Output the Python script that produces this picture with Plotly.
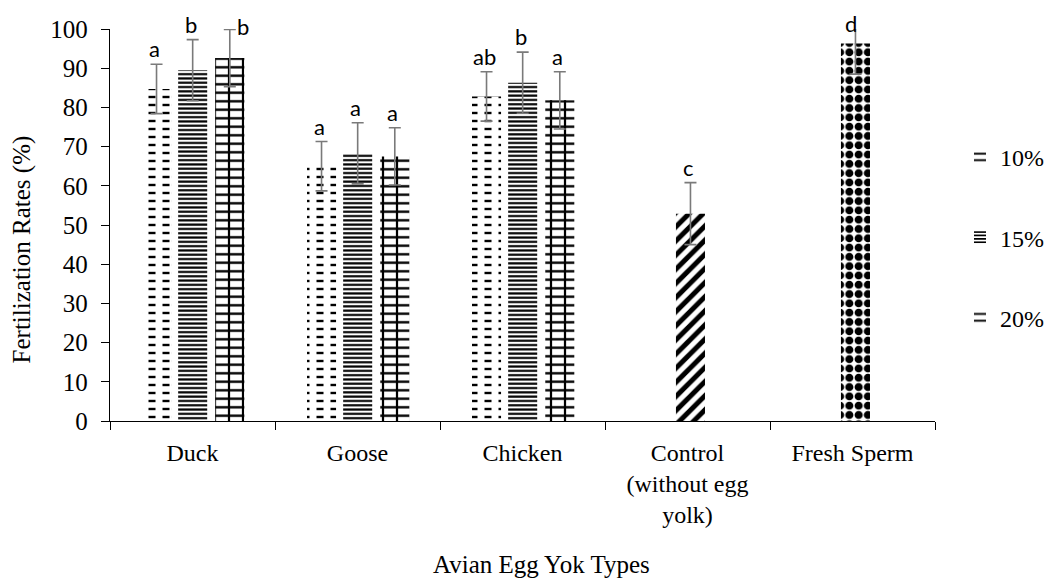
import plotly.graph_objects as go

# ---------------- data ----------------
categories = ["Duck", "Goose", "Chicken", "Control<br>(without egg<br>yolk)", "Fresh Sperm"]
yolk_types = ["Duck", "Goose", "Chicken"]
series_names = ["10%", "15%", "20%"]

vals_10 = [84.7, 65.0, 82.8]
vals_15 = [89.5, 68.3, 86.3]
vals_20 = [92.6, 67.5, 81.8]
err_10 = [6.3, 6.3, 6.3]
err_15 = [7.8, 7.8, 7.8]
err_20 = [7.3, 7.3, 7.3]
letters_10 = ["a", "a", "ab"]
letters_15 = ["b", "a", "b"]
letters_20 = ["b", "a", "a"]

control_val = [52.9]
control_err = [7.9]
control_letter = ["c"]
fresh_val = [96.3]
fresh_err = [7.8]
fresh_letter = ["d"]

y_range = [0, 100]
y_dtick = 10

# ---------------- style ----------------
SERIF = "Liberation Serif"
SANS = "Lato"
ERR_COLOR = "#7a7a7a"
BAR_W = 0.176
OFFSETS = {"10%": -0.306, "15%": -0.087, "20%": 0.138}
SINGLE_OFF = -0.07

fig = go.Figure()

def err(arr):
    return dict(type="data", array=arr, visible=True, color=ERR_COLOR, thickness=1.6, width=6)

def bars(x, y, e, off, name, base_pat, over_pat=None, legend=False, group=None):
    base_pat = dict(base_pat, fgopacity=1)
    fig.add_trace(go.Bar(
        x=x, y=y, name=name, offset=off, width=BAR_W, opacity=1,
        marker=dict(color="white", opacity=1, line=dict(width=0), pattern=base_pat),
        error_y=err(e) if over_pat is None else None,
        showlegend=legend, legendgroup=group,
    ))
    if over_pat is not None:
        over_pat = dict(over_pat, fgopacity=1)
        fig.add_trace(go.Bar(
            x=x, y=y, name=name, offset=off, width=BAR_W, opacity=1,
            marker=dict(color="rgba(0,0,0,0)", line=dict(width=0), pattern=over_pat),
            error_y=err(e), showlegend=False, legendgroup=group, hoverinfo="skip",
        ))

# 10%: dashed horizontal lines (black lines cut by white vertical stripes)
bars(yolk_types, vals_10, err_10, OFFSETS["10%"], "10%",
     dict(shape="-", fgcolor="black", bgcolor="white", size=8, solidity=0.3),
     dict(shape="|", fgcolor="white", bgcolor="rgba(0,0,0,0)", size=14, solidity=0.5),
     legend=True, group="g10")
# 15%: dense horizontal lines
bars(yolk_types, vals_15, err_15, OFFSETS["15%"], "15%",
     dict(shape="-", fgcolor="black", bgcolor="white", size=4.3, solidity=0.5),
     legend=True, group="g15")
# 20%: brick-like grid
bars(yolk_types, vals_20, err_20, OFFSETS["20%"], "20%",
     dict(shape="-", fgcolor="black", bgcolor="white", size=8.5, solidity=0.28),
     dict(shape="|", fgcolor="black", bgcolor="rgba(0,0,0,0)", size=14, solidity=0.16),
     legend=True, group="g20")
# Control: diagonal stripes
bars([categories[3]], control_val, control_err, SINGLE_OFF, "Control",
     dict(shape="/", fgcolor="black", bgcolor="white", size=10, solidity=0.5))
# Fresh sperm: checker-like
bars([categories[4]], fresh_val, fresh_err, SINGLE_OFF, "Fresh Sperm",
     dict(shape=".", fgcolor="black", bgcolor="white", size=9.3, solidity=0.6))

# ---------------- letters ----------------
CAT_PX = 165.0
def center_shift(off):
    return (off + BAR_W / 2) * CAT_PX

def add_letters(xs, ys, es, letters, off):
    for xc, v, e, t in zip(xs, ys, es, letters):
        top = min(v + e, y_range[1])
        dx, dy = center_shift(off) - 2, 1
        if v + e > 99:
            if xc == categories[4]:
                dx, dy = center_shift(off) - 4, -9
            else:
                dx, dy = center_shift(off) + 13, -12
        fig.add_annotation(x=xc, y=top, text=t, showarrow=False, xref="x", yref="y",
                           xanchor="center", yanchor="bottom", xshift=dx, yshift=dy,
                           borderpad=0,
                           font=dict(family=SANS, size=22, color="black"))

add_letters(yolk_types, vals_10, err_10, letters_10, OFFSETS["10%"])
add_letters(yolk_types, vals_15, err_15, letters_15, OFFSETS["15%"])
add_letters(yolk_types, vals_20, err_20, letters_20, OFFSETS["20%"])
add_letters([categories[3]], control_val, control_err, control_letter, SINGLE_OFF)
add_letters([categories[4]], fresh_val, fresh_err, fresh_letter, SINGLE_OFF)

# axis titles
fig.add_annotation(text="Fertilization Rates (%)", textangle=-90, showarrow=False,
                   xref="paper", yref="paper", x=-0.107, y=0.437,
                   xanchor="center", yanchor="middle",
                   font=dict(family=SERIF, size=25, color="black"))
fig.add_annotation(text="Avian Egg Yok Types", showarrow=False,
                   xref="paper", yref="paper", x=0.523, y=-0.365,
                   xanchor="center", yanchor="middle",
                   font=dict(family=SERIF, size=25, color="black"))

# the page body adds an 8px margin, so the figure is sized to fit inside it
fig.update_layout(
    width=1048, height=571,
    margin=dict(l=102, r=121, t=21, b=157.5, autoexpand=False),
    paper_bgcolor="white", plot_bgcolor="white",
    barmode="overlay",
    font=dict(family=SERIF, size=24, color="black"),
    legend=dict(x=1.0303, y=0.73, xanchor="left", yanchor="top",
                font=dict(family=SERIF, size=24, color="black"),
                tracegroupgap=46, itemwidth=30, bgcolor="rgba(0,0,0,0)"),
    xaxis=dict(type="category", categoryorder="array", categoryarray=categories,
               showline=True, linecolor="black", linewidth=1.3,
               ticks="outside", tickson="boundaries", ticklen=8, tickcolor="black",
               tickwidth=1.3, showgrid=False, zeroline=False,
               ticklabelstandoff=10,
               tickfont=dict(family=SERIF, size=24, color="black")),
    yaxis=dict(range=y_range, dtick=y_dtick, showline=True, linecolor="black",
               linewidth=1.3, ticks="outside", ticklen=8, tickcolor="black",
               tickwidth=1.3, showgrid=False, zeroline=False,
               ticklabelstandoff=8,
               tickfont=dict(family=SERIF, size=25, color="black")),
)

fig.write_html("out.html")
